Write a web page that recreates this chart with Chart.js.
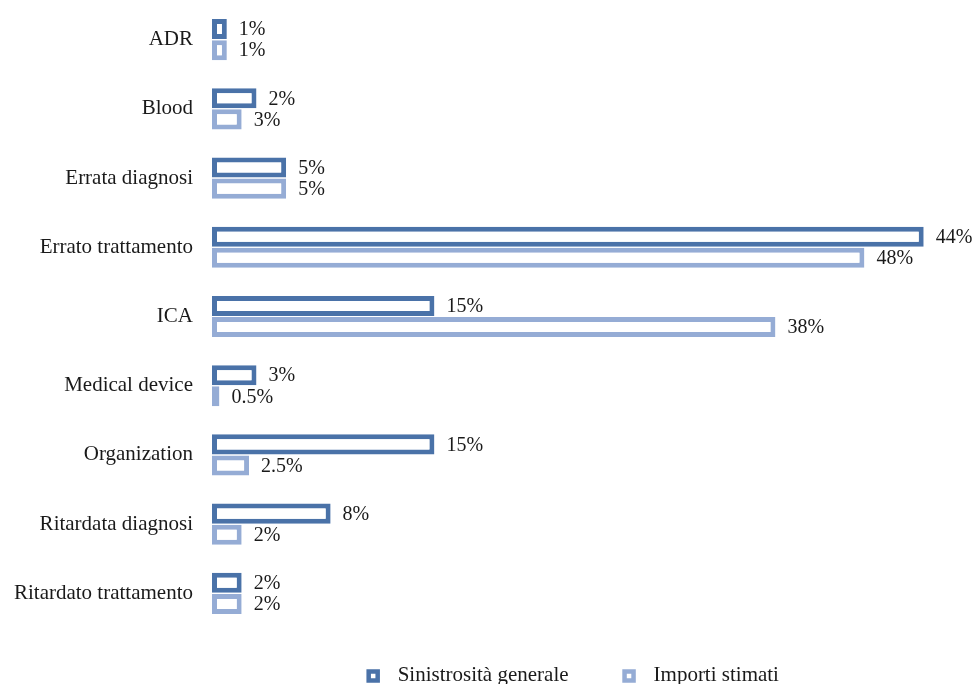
<!DOCTYPE html>
<html>
<head>
<meta charset="utf-8">
<script src="https://cdn.jsdelivr.net/npm/chart.js@4.4.1/dist/chart.umd.min.js"></script>
<style>
  html, body { margin: 0; padding: 0; background: #fff; }
  #wrap { width: 978px; height: 684px; }
</style>
</head>
<body>
<div id="wrap"><canvas id="tipologie"></canvas></div>
<script>
var categories = ['ADR', 'Blood', 'Errata diagnosi', 'Errato trattamento', 'ICA', 'Medical device', 'Organization', 'Ritardata diagnosi', 'Ritardato trattamento'];

// bar lengths as drawn
var sinistrosita = [1, 3, 5, 48, 15, 3, 15, 8, 2];
var importi = [1, 2, 5, 44, 38, 0.5, 2.5, 2, 2];

// labels as printed next to bars
var sinistrositaLabels = ['1%', '2%', '5%', '44%', '15%', '3%', '15%', '8%', '2%'];
var importiLabels = ['1%', '3%', '5%', '48%', '38%', '0.5%', '2.5%', '2%', '2%'];

var seriesNames = ['Sinistrosità generale', 'Importi stimati'];
var seriesColors = ['#4a72a8', '#95acd5'];

var fontFamily = '"Liberation Serif", "Times New Roman", serif';
var textColor = '#1a1a1a';

// writes the percentage to the right of each bar
var barLabels = {
  id: 'barLabels',
  afterDatasetsDraw: function (chart) {
    var ctx = chart.ctx;
    ctx.save();
    ctx.font = '20px ' + fontFamily;
    ctx.fillStyle = textColor;
    ctx.textAlign = 'left';
    ctx.textBaseline = 'middle';
    chart.data.datasets.forEach(function (ds, i) {
      var meta = chart.getDatasetMeta(i);
      meta.data.forEach(function (bar, j) {
        ctx.fillText(ds.labelsText[j], bar.x + 12, bar.y + 1);
      });
    });
    ctx.restore();
  },
};

// legend under the plot, wider spacing than the built-in one allows
var bottomLegend = {
  id: 'bottomLegend',
  afterDraw: function (chart) {
    var ctx = chart.ctx;
    var area = chart.chartArea;
    var box = 9, line = 4.5, gapText = 20, gapItem = 56;
    ctx.save();
    ctx.font = '21px ' + fontFamily;
    var widths = chart.data.datasets.map(function (ds) {
      return ctx.measureText(ds.label).width;
    });
    var total = 0;
    widths.forEach(function (w, i) {
      total += box + gapText + w + (i > 0 ? gapItem : 0);
    });
    var x = area.left + (area.right - area.left) * 0.497 - total / 2;
    var y = chart.height - 8;
    chart.data.datasets.forEach(function (ds, i) {
      ctx.fillStyle = '#ffffff';
      ctx.fillRect(x, y - box / 2, box, box);
      ctx.strokeStyle = ds.borderColor;
      ctx.lineWidth = line;
      ctx.strokeRect(x, y - box / 2, box, box);
      ctx.fillStyle = textColor;
      ctx.textAlign = 'left';
      ctx.textBaseline = 'middle';
      ctx.fillText(ds.label, x + box + gapText, y - 1);
      x += box + gapText + widths[i] + gapItem;
    });
    ctx.restore();
  },
};

var ctx = document.getElementById('tipologie');
var chart = new Chart(ctx, {
  type: 'bar',
  data: {
    labels: categories,
    datasets: [
      {
        label: seriesNames[0],
        data: sinistrosita,
        labelsText: sinistrositaLabels,
        backgroundColor: '#ffffff',
        borderColor: seriesColors[0],
        borderWidth: 5,
        borderSkipped: false,
        categoryPercentage: 0.61,
        barPercentage: 0.95,
      },
      {
        label: seriesNames[1],
        data: importi,
        labelsText: importiLabels,
        backgroundColor: '#ffffff',
        borderColor: seriesColors[1],
        borderWidth: 5,
        borderSkipped: false,
        categoryPercentage: 0.61,
        barPercentage: 0.95,
      },
    ],
  },
  options: {
    indexAxis: 'y',
    responsive: true,
    maintainAspectRatio: false,
    animation: false,
    layout: {
      padding: { left: 12, right: 38, top: 5, bottom: 56 },
    },
    plugins: {
      legend: { display: false },
      tooltip: { enabled: false },
    },
    scales: {
      x: {
        display: false,
        min: 0,
        max: 49.1,
      },
      y: {
        grid: { display: false, drawTicks: false },
        border: { display: false },
        ticks: {
          padding: 19,
          color: textColor,
          font: { family: fontFamily, size: 21 },
        },
        afterFit: function (scale) {
          scale.width = 200;
          scale.paddingTop = 0;
          scale.paddingBottom = 0;
        },
      },
    },
  },
  plugins: [barLabels, bottomLegend],
});
</script>
</body>
</html>
